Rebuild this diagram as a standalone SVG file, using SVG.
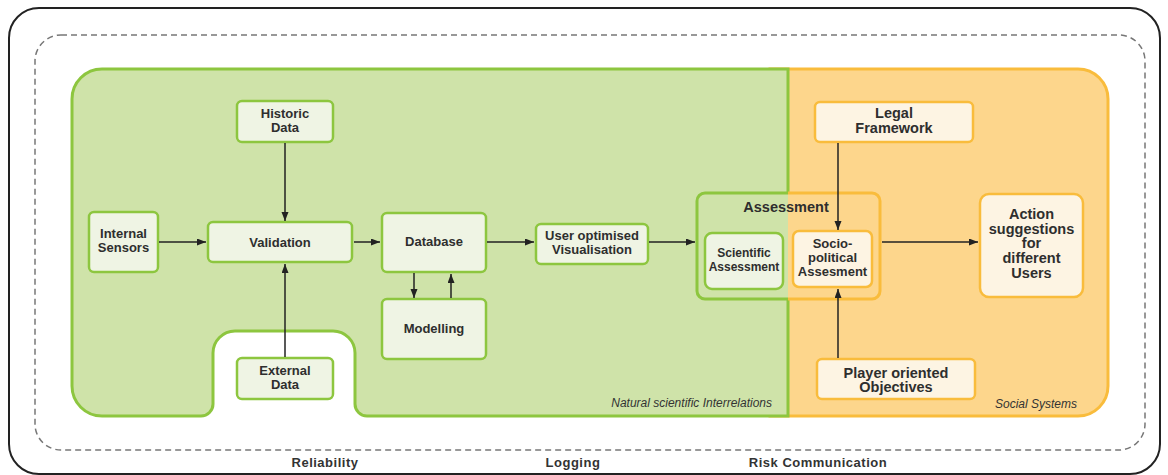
<svg xmlns="http://www.w3.org/2000/svg" width="1168" height="475" viewBox="0 0 1168 475">
<style>
.t{font-family:"Liberation Sans",Arial,sans-serif;font-weight:bold;fill:#2e2e2e;text-anchor:middle}
.g{font-size:13px}
.o{font-size:14.5px}
.s{font-size:12px}
.it{font-family:"Liberation Sans",Arial,sans-serif;font-style:italic;font-size:12px;fill:#333;text-anchor:end}
.bl{font-family:"Liberation Sans",Arial,sans-serif;font-weight:bold;font-size:13px;fill:#333;text-anchor:middle;letter-spacing:0.5px}
.gn{fill:#eff4e4;stroke:#8dc63f;stroke-width:2.5}
.on{fill:#fdf4e3;stroke:#f9bc3c;stroke-width:2.5}
.c{stroke:#222;stroke-width:1.5;fill:none;marker-end:url(#ah)}
</style>
<defs>
<marker id="ah" markerUnits="userSpaceOnUse" markerWidth="10" markerHeight="8" refX="9" refY="3.5" orient="auto">
<path d="M0,0 L9,3.5 L0,7 z" fill="#222"/>
</marker>
<clipPath id="cl"><rect x="0" y="0" width="788" height="475"/></clipPath>
<clipPath id="cr"><rect x="788" y="0" width="380" height="475"/></clipPath>
</defs>

<g id="frame">
<rect x="9" y="8" width="1151" height="466" rx="30" fill="#fff" stroke="#222" stroke-width="2"/>
<rect x="35" y="35" width="1110" height="415" rx="26" fill="none" stroke="#777" stroke-width="1.5" stroke-dasharray="6 4"/>
</g>

<g id="social-systems">
<path d="M770,69 H1078 A30,30 0 0 1 1108,99 V386 A30,30 0 0 1 1078,416 H770 Z" fill="#fdd68c" stroke="#f9bc3c" stroke-width="3"/>
<text class="it" x="1077" y="408">Social Systems</text>
</g>

<g id="natural-scientific">
<path d="M102,69 H788 V416 H367 A12,12 0 0 1 355,404 V353 A22,22 0 0 0 333,331 H235 A22,22 0 0 0 213,353 V404 A12,12 0 0 1 201,416 H102 A30,30 0 0 1 72,386 V99 A30,30 0 0 1 102,69 Z" fill="#cfe3a9" stroke="#8dc63f" stroke-width="3"/>
<text class="it" x="772" y="407">Natural scientific Interrelations</text>
</g>

<g id="assessment">
<rect x="697" y="193" width="183" height="106" rx="8" fill="#cfe3a9" stroke="#8dc63f" stroke-width="3" clip-path="url(#cl)"/>
<rect x="697" y="193" width="183" height="106" rx="8" fill="#fdd68c" stroke="#f9bc3c" stroke-width="3" clip-path="url(#cr)"/>
<text class="t o" x="786" y="212">Assessment</text>
</g>

<g id="historic-data">
<rect class="gn" x="237" y="101" width="96" height="41" rx="5"/>
<text class="t g" x="285" y="118">Historic</text>
<text class="t g" x="285" y="132">Data</text>
</g>

<g id="internal-sensors">
<rect class="gn" x="89" y="212" width="69" height="60" rx="5"/>
<text class="t g" x="123.5" y="238">Internal</text>
<text class="t g" x="123.5" y="252">Sensors</text>
</g>

<g id="validation">
<rect class="gn" x="208" y="222" width="144" height="40" rx="5"/>
<text class="t g" x="280" y="247">Validation</text>
</g>

<g id="external-data">
<rect class="gn" x="237" y="358" width="96" height="41" rx="5"/>
<text class="t g" x="285" y="375">External</text>
<text class="t g" x="285" y="389">Data</text>
</g>

<g id="database">
<rect class="gn" x="382" y="213" width="104" height="59" rx="5"/>
<text class="t g" x="434" y="246">Database</text>
</g>

<g id="modelling">
<rect class="gn" x="382" y="299" width="104" height="60" rx="5"/>
<text class="t g" x="434" y="333">Modelling</text>
</g>

<g id="visualisation">
<rect class="gn" x="536" y="224" width="112" height="40" rx="5"/>
<text class="t g" x="592" y="240">User optimised</text>
<text class="t g" x="592" y="254">Visualisation</text>
</g>

<g id="scientific-assessment">
<rect class="gn" x="705" y="233" width="78" height="56" rx="7"/>
<text class="t s" x="744" y="257">Scientific</text>
<text class="t s" x="744" y="271">Assessment</text>
</g>

<g id="sociopolitical-assessment">
<rect class="on" x="793" y="231" width="79" height="56" rx="6"/>
<text class="t g" x="832.5" y="248">Socio-</text>
<text class="t g" x="832.5" y="262">political</text>
<text class="t g" x="832.5" y="276">Assesment</text>
</g>

<g id="legal-framework">
<rect class="on" x="815" y="102" width="158" height="40" rx="5"/>
<text class="t o" x="894" y="118">Legal</text>
<text class="t o" x="894" y="133">Framework</text>
</g>

<g id="action-suggestions">
<rect class="on" x="980" y="194" width="103" height="103" rx="9"/>
<text class="t o" x="1031.5" y="219">Action</text>
<text class="t o" x="1031.5" y="234">suggestions</text>
<text class="t o" x="1031.5" y="248">for</text>
<text class="t o" x="1031.5" y="263">different</text>
<text class="t o" x="1031.5" y="278">Users</text>
</g>

<g id="player-objectives">
<rect class="on" x="817" y="359" width="158" height="40" rx="5"/>
<text class="t o" x="896" y="378">Player oriented</text>
<text class="t o" x="896" y="392">Objectives</text>
</g>

<g id="connectors">
<line class="c" x1="285" y1="143" x2="285" y2="221"/>
<line class="c" x1="159" y1="242" x2="206" y2="242"/>
<line class="c" x1="285" y1="357" x2="285" y2="264"/>
<line class="c" x1="354" y1="242" x2="380" y2="242"/>
<line class="c" x1="487" y1="242" x2="534" y2="242"/>
<line class="c" x1="649" y1="242" x2="695" y2="242"/>
<line class="c" x1="414" y1="273" x2="414" y2="298"/>
<line class="c" x1="451" y1="298" x2="451" y2="274"/>
<line class="c" x1="838" y1="143" x2="838" y2="230"/>
<line class="c" x1="838" y1="358" x2="838" y2="289"/>
<line class="c" x1="882" y1="242" x2="978" y2="242"/>
</g>

<g id="bottom-labels">
<text class="bl" x="325" y="467">Reliability</text>
<text class="bl" x="573" y="467">Logging</text>
<text class="bl" x="818" y="467">Risk Communication</text>
</g>
</svg>
